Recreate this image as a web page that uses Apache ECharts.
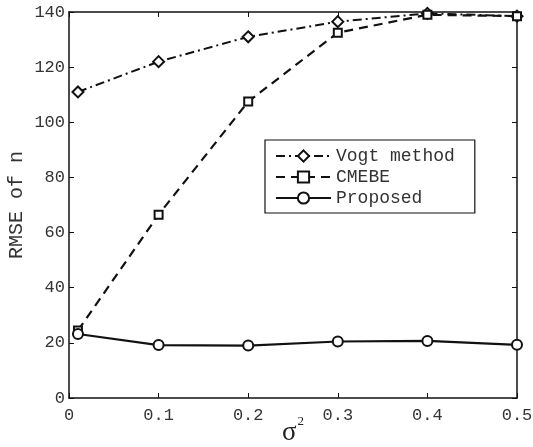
<!DOCTYPE html>
<html><head><meta charset="utf-8">
<script src="https://cdn.jsdelivr.net/npm/echarts@6/dist/echarts.min.js"></script>
<style>html,body{margin:0;padding:0;background:#fff}#c{width:533px;height:447px}</style>
</head><body><div id="c"></div>
<script>
const xVals = [0.01, 0.1, 0.2, 0.3, 0.4, 0.5];
const vogt = [111, 122, 131, 136.5, 139.5, 138.5];
const cmebe = [24.5, 66.5, 107.5, 132.5, 139, 138.5];
const proposed = [23.2, 19.2, 19, 20.5, 20.7, 19.3];
const xTicks = ['0', '0.1', '0.2', '0.3', '0.4', '0.5'];
const names = ['Vogt method', 'CMEBE', 'Proposed'];

const pair = arr => xVals.map((x, i) => [x, arr[i]]);
const mono = 'Liberation Mono';
const chart = echarts.init(document.getElementById('c'));
const axisCommon = {
  axisLine: {show: true, onZero: false, lineStyle: {color: '#111', width: 1.5}},
  axisTick: {show: true, inside: true, length: 5, lineStyle: {color: '#111'}},
  splitLine: {show: false}
};
function mk(name, data, dash, symbol, size, width) {
  return {
    name, type: 'line', data, symbol, symbolSize: size,
    lineStyle: {color: '#111', width: width, type: dash},
    itemStyle: {color: '#fff', borderColor: '#111', borderWidth: 2},
    emphasis: {disabled: true}, animation: false
  };
}
chart.setOption({
  animation: false,
  grid: {left: 69, right: 16, top: 12, bottom: 49, containLabel: false, outerBoundsMode: 'none'},
  legend: {
    data: names, orient: 'vertical', left: 265, top: 140,
    itemWidth: 55, itemHeight: 14, itemGap: 3,
    padding: [7, 20, 6, 10],
    backgroundColor: '#fff', borderColor: '#111', borderWidth: 1.2, borderRadius: 0,
    textStyle: {fontFamily: mono, fontSize: 18, color: '#333'}
  },
  xAxis: [
    Object.assign({type: 'value', min: 0, max: 0.5, interval: 0.1,
      name: '{s|σ}{p|2}', nameLocation: 'middle', nameGap: 17, nameMoveOverlap: false,
      nameTextStyle: {rich: {
        s: {fontFamily: 'Liberation Serif', fontSize: 27, color: '#222'},
        p: {fontFamily: 'Liberation Serif', fontSize: 13, color: '#222', padding: [0, 0, 22, 1]}
      }},
      axisLabel: {fontFamily: mono, fontSize: 17, color: '#333', margin: 9,
        formatter: v => xTicks[Math.round(v * 10)]}}, axisCommon),
    Object.assign({type: 'value', min: 0, max: 0.5, interval: 0.1, position: 'top',
      axisLabel: {show: false}}, axisCommon)
  ],
  yAxis: [
    Object.assign({type: 'value', min: 0, max: 140, interval: 20,
      name: 'RMSE of n', nameLocation: 'middle', nameGap: 42, nameMoveOverlap: false,
      nameTextStyle: {fontFamily: mono, fontSize: 20, color: '#333'},
      axisLabel: {fontFamily: mono, fontSize: 17, color: '#333', margin: 4}}, axisCommon),
    Object.assign({type: 'value', min: 0, max: 140, interval: 20, position: 'right',
      axisLabel: {show: false}}, axisCommon)
  ],
  series: [
    mk(names[0], pair(vogt), [9, 4, 2, 4], 'diamond', 11, 2),
    mk(names[1], pair(cmebe), [9, 6], 'rect', 8, 2.2),
    mk(names[2], pair(proposed), 'solid', 'circle', 10, 2.2)
  ]
});
</script></body></html>
